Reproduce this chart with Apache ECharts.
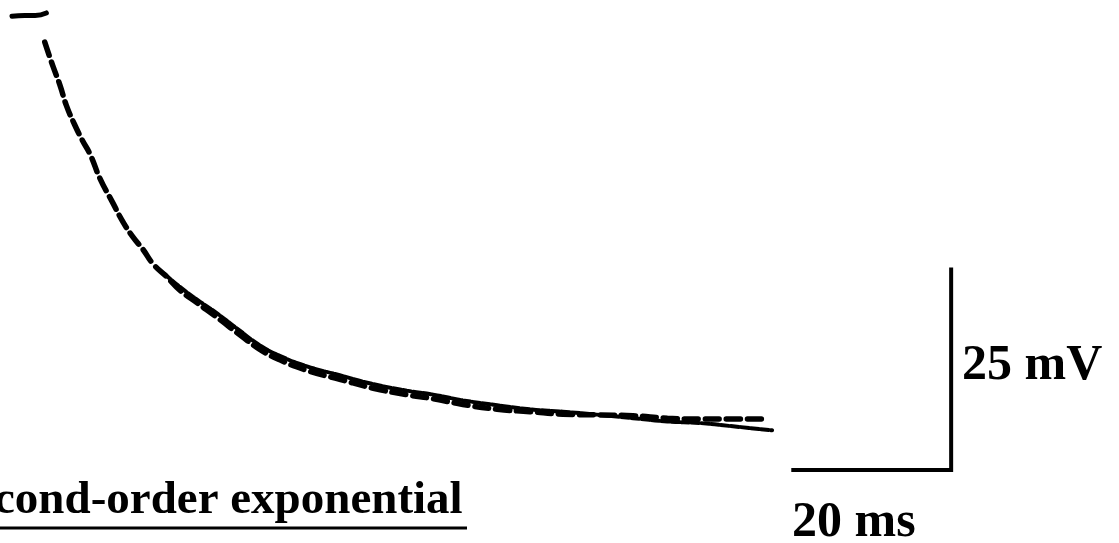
<!DOCTYPE html>
<html>
<head>
<meta charset="utf-8">
<script src="https://cdn.jsdelivr.net/npm/echarts@6/dist/echarts.min.js"></script>
<style>
  html, body { margin: 0; padding: 0; background: #ffffff; }
  #chart { width: 1119px; height: 543px; }
</style>
</head>
<body>
<div id="chart"></div>
<script>
// Holding potential before the hyperpolarizing step (ms, mV)
const baselineMs = [-3.5, -1.9, -0.6, 0.8];
const baselineMv = [-65.0, -64.9, -64.9, -64.6];

// Second-order exponential fit of the relaxation (ms, mV)
const fitMs = [0.6, 1.6, 2.5, 3.3, 4.3, 5.3, 6.3, 7.5, 9.1, 10.4, 11.6, 12.9, 14.1, 15.9, 17.5,
  19.7, 22.2, 25.0, 27.5, 30.0, 33.4, 37.5, 41.7, 45.9, 49.2, 52.9, 57.2, 61.3, 65.4,
  70.1, 74.2, 78.5, 82.6, 86.7, 91.0];
const fitMv = [-68.2, -71.1, -73.5, -76.0, -78.3, -80.3, -82.1, -85.0, -88.0, -90.4, -92.2,
  -93.8, -95.5, -97.2, -98.8, -100.4, -102.2, -104.3, -106.1, -107.4, -108.7, -109.8,
  -110.9, -111.7, -112.2, -112.9, -113.5, -113.8, -114.1, -114.2, -114.3, -114.6,
  -114.7, -114.7, -114.7];

// Recorded membrane potential, late phase (ms, mV)
const recMs = [15.6, 17.5, 19.7, 22.2, 25.0, 27.5, 30.0, 33.4, 37.5, 41.7, 45.9, 49.2, 52.9,
  57.2, 61.3, 65.4, 70.1, 74.2, 78.5, 82.6, 86.7, 91.6];
const recMv = [-96.8, -98.4, -100.0, -101.7, -103.8, -105.6, -106.9, -108.2, -109.3, -110.4,
  -111.2, -111.7, -112.4, -113.0, -113.5, -113.8, -114.2, -114.6, -115.0, -115.2,
  -115.6, -116.1];

// Scale bars
const scaleBarMs = 20;
const scaleBarMv = 25;
const scaleOriginMs = 94;
const scaleOriginMv = -121;

const titleText = 'Second-order exponential';

const zip = (xs, ys) => xs.map((x, i) => [x, ys[i]]);

const scaleBar = [
  [scaleOriginMs, scaleOriginMv],
  [scaleOriginMs + scaleBarMs, scaleOriginMv],
  [scaleOriginMs + scaleBarMs, scaleOriginMv + scaleBarMv]
];

const chart = echarts.init(document.getElementById('chart'), null, { renderer: 'canvas' });

const serifBold = 'bold 50px "Liberation Serif", "Times New Roman", serif';

chart.setOption({
  backgroundColor: '#ffffff',
  animation: false,
  grid: { left: 0, right: 0, top: 0, bottom: 0 },
  xAxis: { type: 'value', min: -5, max: 135, show: false },
  yAxis: { type: 'value', min: -130, max: -63, show: false },
  series: [
    {
      name: 'baseline',
      type: 'line',
      data: zip(baselineMs, baselineMv),
      showSymbol: false,
      smooth: true,
      lineStyle: { color: '#000', width: 5, cap: 'round' }
    },
    {
      name: 'recording',
      type: 'line',
      data: zip(recMs, recMv),
      showSymbol: false,
      smooth: true,
      lineStyle: { color: '#000', width: 4, type: [8, 2], cap: 'round' }
    },
    {
      name: 'fit',
      type: 'line',
      data: zip(fitMs, fitMv),
      showSymbol: false,
      smooth: true,
      lineStyle: { color: '#000', width: 5.5, type: [14, 7], cap: 'round' }
    },
    {
      name: 'scale',
      type: 'line',
      data: scaleBar,
      showSymbol: false,
      lineStyle: { color: '#000', width: 4, join: 'miter', cap: 'butt' }
    }
  ],
  graphic: [
    {
      type: 'text',
      x: 962, y: 366,
      style: {
        text: scaleBarMv + ' mV',
        font: serifBold,
        fill: '#000',
        textAlign: 'left',
        textVerticalAlign: 'middle'
      }
    },
    {
      type: 'text',
      x: 792, y: 523,
      style: {
        text: scaleBarMs + ' ms',
        font: serifBold,
        fill: '#000',
        textAlign: 'left',
        textVerticalAlign: 'middle'
      }
    },
    {
      type: 'text',
      x: -53, y: 501,
      style: {
        text: titleText,
        font: 'bold 47px "Liberation Serif", "Times New Roman", serif',
        fill: '#000',
        textAlign: 'left',
        textVerticalAlign: 'middle'
      }
    },
    {
      type: 'line',
      shape: { x1: 0, y1: 528, x2: 467, y2: 528 },
      style: { stroke: '#000', lineWidth: 3 }
    }
  ]
});
</script>
</body>
</html>
